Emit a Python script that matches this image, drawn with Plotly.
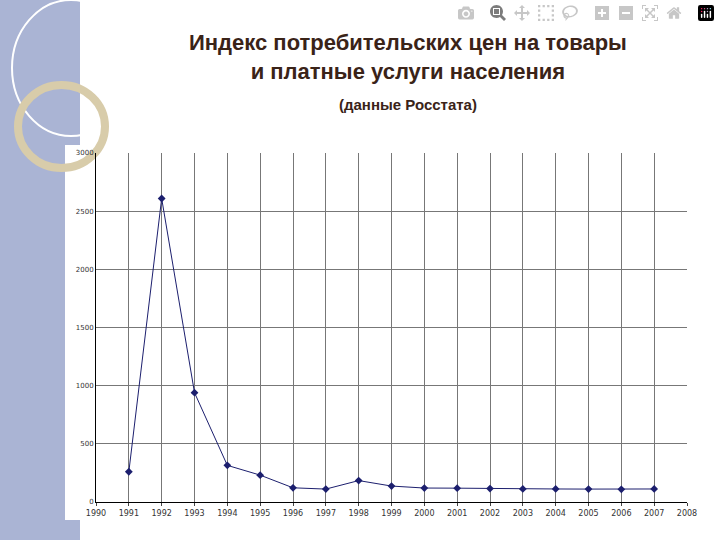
import plotly.graph_objects as go

years = list(range(1991, 2008))
cpi = [260, 2609, 940, 315, 231, 122, 111, 184, 137, 120, 119, 115, 112, 112, 111, 109, 112]
xticks = list(range(1990, 2009))

W, H = 720, 540
L, R, T, B = 96, 687, 153, 502
def px(x): return (x - L) / (R - L)
def py(y): return (B - y) / (B - T)

fig = go.Figure(go.Scatter(x=years, y=cpi, mode="lines+markers",
    line=dict(color="#1c1f6e", width=1), marker=dict(symbol="diamond", size=6, color="#1c1f6e")))

shapes = [
    dict(type="rect", xref="paper", yref="paper", x0=px(0), x1=px(80), y0=py(540), y1=py(0),
         fillcolor="#aab4d4", line_width=0, layer="below"),
    dict(type="rect", xref="paper", yref="paper", x0=px(65), x1=px(692), y0=py(520), y1=py(145),
         fillcolor="white", line_width=0, layer="below"),
    dict(type="circle", xref="paper", yref="paper", x0=px(12), x1=px(130), y0=py(136), y1=py(0),
         line=dict(color="white", width=2), layer="below"),
    dict(type="circle", xref="paper", yref="paper", x0=px(18), x1=px(105), y0=py(168), y1=py(85),
         line=dict(color="#d8ccaa", width=8), layer="below"),
]
fig.update_layout(
    width=W, height=H, margin=dict(l=L, r=W - R, t=T, b=H - B),
    paper_bgcolor="white", plot_bgcolor="white", showlegend=False, shapes=shapes,
    font=dict(family="DejaVu Sans"),
    xaxis=dict(range=[1990, 2008], tickvals=xticks, showgrid=True, gridcolor="#777", gridwidth=1,
               showline=True, linecolor="black", tickfont=dict(size=8, color="#333"), ticks="outside", ticklen=3),
    yaxis=dict(range=[0, 3000], dtick=500, showgrid=True, gridcolor="#777", gridwidth=1,
               showline=True, linecolor="black", tickfont=dict(size=7, color="#333"), zeroline=False),
    annotations=[
        dict(text="<b>Индекс потребительских цен на товары<br>и платные услуги населения</b>", x=px(408), y=py(28),
             yanchor="top", xref="paper", yref="paper", showarrow=False,
             font=dict(size=22, color="#3a2318", family="Liberation Sans")),
        dict(text="<b>(данные Росстата)</b>", x=px(408), y=py(94), yanchor="top", xref="paper", yref="paper",
             showarrow=False, font=dict(size=15, color="#3a2318", family="Liberation Sans")),
    ],
)
fig.write_html("out.html")
with open("out.html", encoding="utf-8") as f:
    html = f.read()
html = html.replace("<head>", "<head><style>html,body{margin:0;padding:0;}</style>", 1)
with open("out.html", "w", encoding="utf-8") as f:
    f.write(html)
